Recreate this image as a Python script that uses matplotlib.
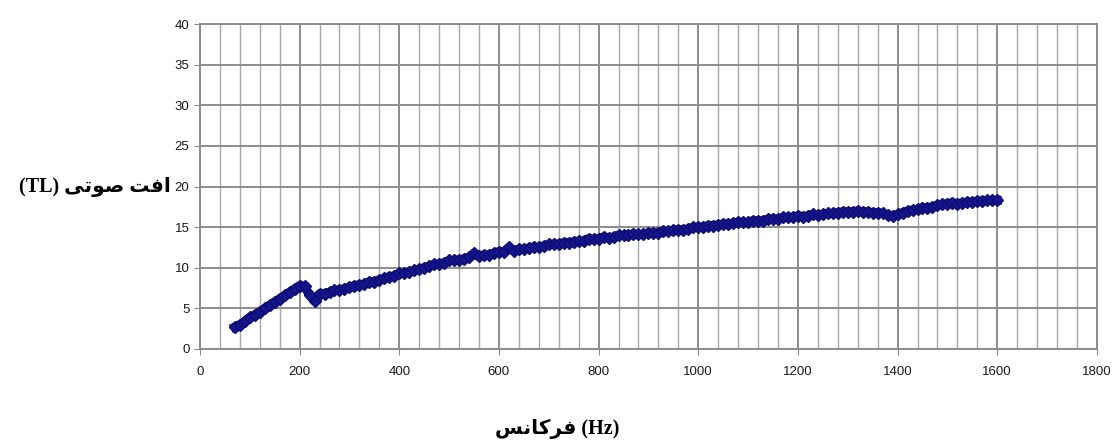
import matplotlib
matplotlib.use("Agg")
import matplotlib.pyplot as plt
import numpy as np
from matplotlib.ticker import MultipleLocator

# ------------------------------------------------------------------
#   data (frequency in Hz, TL in dB)
# ------------------------------------------------------------------
freq = np.arange(70, 1601, 10)
tl = [
    2.7, 3.0, 3.4, 3.9, 4.2, 4.6, 5.0, 5.4, 5.8, 6.2,
    6.6, 7.0, 7.4, 7.8, 7.7, 6.6, 5.9, 6.8, 6.8, 7.0,
    7.2, 7.3, 7.4, 7.6, 7.8, 7.9, 8.0, 8.3, 8.3, 8.5,
    8.7, 8.9, 9.0, 9.3, 9.3, 9.5, 9.7, 9.8, 10.0, 10.2,
    10.4, 10.5, 10.6, 10.9, 10.9, 11.0, 11.1, 11.3, 11.8, 11.4,
    11.6, 11.6, 11.8, 12.0, 12.0, 12.5, 12.1, 12.3, 12.3, 12.4,
    12.6, 12.5, 12.7, 12.9, 12.9, 12.9, 13.1, 13.1, 13.2, 13.3,
    13.3, 13.6, 13.5, 13.6, 13.8, 13.7, 13.8, 14.0, 14.0, 14.0,
    14.2, 14.1, 14.1, 14.3, 14.3, 14.3, 14.5, 14.5, 14.6, 14.7,
    14.7, 14.8, 15.0, 15.0, 15.0, 15.2, 15.2, 15.3, 15.4, 15.4,
    15.5, 15.6, 15.6, 15.6, 15.8, 15.8, 15.8, 16.0, 16.0, 16.0,
    16.2, 16.2, 16.2, 16.4, 16.3, 16.4, 16.6, 16.5, 16.6, 16.7,
    16.7, 16.8, 16.9, 16.9, 16.9, 17.0, 16.9, 16.9, 16.8, 16.8,
    16.7, 16.5, 16.4, 16.6, 16.8, 17.0, 17.1, 17.2, 17.4, 17.4,
    17.5, 17.7, 17.8, 17.9, 18.0, 17.9, 18.0, 18.1, 18.1, 18.2,
    18.2, 18.3, 18.3, 18.3,
]
tl = np.array(tl[:len(freq)])

# persian labels in visual order with presentation forms (no shaping in mpl)
xlabel_txt = "\uFEB2\uFEE7\uFE8E\uFB90\uFEAE\uFED3 (Hz)"
ylabel_txt = "(TL) \uFEF0\uFE97\uFEEE\uFEBB \uFE96\uFED3\uFE8D"

# ------------------------------------------------------------------
#   figure
# ------------------------------------------------------------------
fig = plt.figure(figsize=(11.17, 4.40), dpi=100)
ax = fig.add_axes([0.179, 0.207, 0.803, 0.738])

ax.plot(freq, tl, "-", color="#14148c", linewidth=6.5, marker="D",
        markersize=6, markeredgecolor="#0c0c72", zorder=3)

ax.set_xlim(0, 1800)
ax.set_ylim(0, 40)
ax.xaxis.set_major_locator(MultipleLocator(200))
ax.xaxis.set_minor_locator(MultipleLocator(40))
ax.yaxis.set_major_locator(MultipleLocator(5))

ax.grid(which="major", color="#8c8c8c", linewidth=1.4)
ax.grid(which="minor", axis="x", color="#a8a8a8", linewidth=1.0)
ax.set_axisbelow(True)

for s in ax.spines.values():
    s.set_color("#8c8c8c")
    s.set_linewidth(1.4)

ax.tick_params(which="major", length=4, color="#8c8c8c", labelsize=9.5,
               labelcolor="#1a1a1a")
ax.tick_params(which="minor", length=0)
for lab in ax.get_xticklabels() + ax.get_yticklabels():
    lab.set_family(["Liberation Sans", "DejaVu Sans"])
ax.tick_params(axis="x", pad=8)

fig.text(171 / 1117, 1 - 187 / 440, ylabel_txt, ha="right", va="center",
         fontsize=14.5, fontweight="bold", family=["Liberation Serif", "DejaVu Sans"])
fig.text(557 / 1117, 1 - 429 / 440, xlabel_txt, ha="center", va="center",
         fontsize=14.5, fontweight="bold", family=["Liberation Serif", "DejaVu Sans"])

fig.savefig("out.png", dpi=100)
